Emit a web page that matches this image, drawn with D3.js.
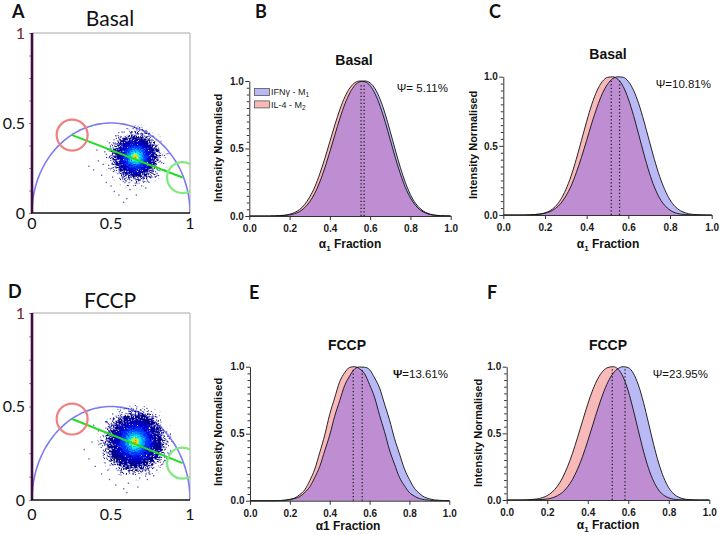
<!DOCTYPE html>
<html><head><meta charset="utf-8">
<script src="https://cdn.jsdelivr.net/npm/d3@7"></script>
<style>body{margin:0;background:#fff}svg{display:block}</style>
</head><body><svg id="c" width="720" height="535"></svg>
<script>
// ---------------- DATA ----------------
const alphaGrid=[0,0.025,0.05,0.075,0.1,0.125,0.15,0.175,0.2,0.225,0.25,0.275,0.3,0.325,0.35,0.375,0.4,0.425,0.45,0.475,0.5,0.525,0.55,0.575,0.6,0.625,0.65,0.675,0.7,0.725,0.75,0.775,0.8,0.825,0.85,0.875,0.9,0.925,0.95,0.975,1];
// Panel B (Basal)
const basalIL4_B=[0,0,0,0,0,0.001,0.003,0.006,0.013,0.026,0.048,0.085,0.141,0.215,0.313,0.426,0.551,0.676,0.790,0.884,0.950,0.988,1.000,0.994,0.965,0.903,0.812,0.695,0.564,0.432,0.313,0.211,0.134,0.079,0.043,0.022,0.010,0.005,0.002,0.001,0];
const basalIFN_B=[0,0,0,0,0,0.001,0.002,0.004,0.008,0.017,0.033,0.062,0.105,0.168,0.252,0.356,0.476,0.601,0.724,0.831,0.914,0.969,0.995,1.000,0.986,0.941,0.863,0.755,0.625,0.489,0.360,0.248,0.159,0.095,0.053,0.027,0.013,0.006,0.002,0.001,0];
// Panel C (Basal)
const basalIL4_C=[0,0,0,0,0,0.001,0.003,0.007,0.015,0.032,0.062,0.111,0.184,0.281,0.403,0.539,0.677,0.802,0.900,0.965,0.995,0.999,0.981,0.930,0.839,0.719,0.580,0.439,0.309,0.202,0.122,0.069,0.035,0.016,0.007,0.003,0.001,0,0,0,0];
const basalIFN_C=[0,0,0,0,0,0.001,0.003,0.006,0.013,0.025,0.047,0.083,0.137,0.209,0.305,0.417,0.540,0.666,0.780,0.877,0.945,0.986,0.999,0.996,0.966,0.902,0.804,0.678,0.539,0.402,0.280,0.183,0.109,0.060,0.031,0.015,0.006,0.003,0.001,0,0];
// Panel E (FCCP)
const fccpIL4_E=[0,0,0,0,0,0,0.001,0.004,0.010,0.020,0.046,0.082,0.150,0.236,0.360,0.490,0.645,0.768,0.888,0.955,0.995,1.000,0.984,0.947,0.866,0.772,0.638,0.515,0.378,0.273,0.174,0.112,0.061,0.034,0.016,0.008,0.003,0.001,0,0,0];
const fccpIFN_E=[0,0,0,0,0,0,0.001,0.003,0.008,0.017,0.031,0.062,0.104,0.174,0.256,0.373,0.490,0.631,0.746,0.860,0.930,0.984,0.998,0.996,0.978,0.917,0.842,0.722,0.604,0.464,0.350,0.237,0.158,0.093,0.054,0.027,0.014,0.006,0.003,0.001,0];
// Panel F (FCCP)
const fccpIL4_F=[0,0,0,0,0.001,0.004,0.008,0.017,0.033,0.060,0.103,0.165,0.249,0.351,0.471,0.596,0.719,0.827,0.911,0.967,0.994,1.000,0.981,0.922,0.817,0.676,0.519,0.367,0.238,0.141,0.075,0.036,0.016,0.006,0.002,0.001,0,0,0,0,0];
const fccpIFN_F=[0,0,0,0,0,0.001,0.002,0.004,0.008,0.016,0.032,0.057,0.098,0.155,0.233,0.329,0.442,0.564,0.685,0.795,0.886,0.950,0.987,1.000,0.993,0.951,0.863,0.733,0.577,0.418,0.278,0.168,0.092,0.045,0.020,0.008,0.003,0.001,0,0,0];
// peak (dotted line) positions [IL-4, IFNγ]
const peaksB=[0.555,0.570], peaksC=[0.518,0.558], peaksE=[0.518,0.563], peaksF=[0.521,0.584];
const psiLabels=["Ψ= 5.11%","Ψ=10.81%","Ψ=13.61%","Ψ=23.95%"];
const conditionTitles=["Basal","FCCP"];
const seriesNames=["IFNγ - M","IL-4 - M"];
const xTickValues=[0,0.2,0.4,0.6,0.8,1.0];
const yTickValues=[0,0.5,1.0];
const yMinorValues=[0.05,0.1,0.15,0.2,0.25,0.3,0.35,0.4,0.45,0.55,0.6,0.65,0.7,0.75,0.8,0.85,0.9,0.95];
// Phasor panels (A, D)
const phasorTicks=[0,0.5,1];
const phasorMinor=[0.125,0.25,0.375,0.625,0.75,0.875];
const universalCircle={g:0.5,s:0,r:0.5};
const componentM1=[0.254,0.433];   // red cursor
const componentM2=[0.953,0.197];   // green cursor
const cursorRadius=0.098;
const cloudCenterBasal=[0.655,0.312], cloudCenterFCCP=[0.652,0.312];
const cloudGBasal=[0.15,0.105,0.078,0.054,0.038,0.025,0.015,0.007];
const cloudSBasal=[0.13,0.09,0.066,0.047,0.034,0.022,0.013,0.006];
const cloudGFCCP=[0.185,0.13,0.095,0.064,0.045,0.029,0.017,0.008];
const cloudSFCCP=[0.16,0.11,0.08,0.056,0.04,0.026,0.015,0.007];
const outliersBasal=[[0.36,0.26],[0.39,0.24],[0.42,0.29],[0.44,0.21],[0.46,0.34],[0.47,0.17],[0.49,0.39],[0.5,0.15],[0.52,0.12],[0.53,0.43],[0.55,0.1],[0.57,0.45],[0.6,0.08],[0.62,0.13],[0.64,0.47],[0.66,0.1],[0.7,0.44],[0.72,0.14],[0.75,0.42],[0.78,0.2],[0.8,0.36],[0.82,0.28],[0.84,0.24],[0.86,0.33],[0.41,0.35],[0.58,0.06],[0.74,0.17],[0.45,0.27],[0.68,0.46],[0.51,0.2]];
const outliersFCCP=[[0.33,0.27],[0.36,0.22],[0.38,0.31],[0.4,0.18],[0.42,0.37],[0.44,0.14],[0.45,0.25],[0.47,0.42],[0.49,0.11],[0.51,0.46],[0.53,0.08],[0.56,0.48],[0.58,0.06],[0.61,0.09],[0.63,0.49],[0.67,0.07],[0.7,0.46],[0.73,0.11],[0.76,0.44],[0.79,0.16],[0.82,0.39],[0.84,0.21],[0.86,0.31],[0.88,0.26],[0.39,0.4],[0.6,0.04],[0.77,0.13],[0.43,0.3],[0.69,0.48],[0.48,0.16]];

// ---------------- STYLE ----------------
const jet=["#00008a","#0000d0","#0038ff","#0094ff","#00e0ff","#8cff70","#ffd000","#ff5000"];
const blurs=[5,3,2.2,1.8,1.5,1.2,1,0.8];
const gains=[0.95,1.05,1.05,1.05,1.05,1.1,1.1,1.2];
const PINK="#f8b9b9", LAV="#b9b9f5", PURPLE="#be8dd2";
const svg=d3.select("#c");
const defs=svg.append("defs");

blurs.forEach((b,i)=>{
  const f=defs.append("filter").attr("id","grain"+i).attr("x","-80%").attr("y","-80%").attr("width","260%").attr("height","260%")
    .attr("color-interpolation-filters","sRGB");
  f.append("feGaussianBlur").attr("in","SourceAlpha").attr("stdDeviation",b).attr("result","b");
  f.append("feTurbulence").attr("type","fractalNoise").attr("baseFrequency",0.95).attr("numOctaves",2).attr("seed",7).attr("result","t");
  f.append("feColorMatrix").attr("in","t").attr("type","matrix").attr("values","0 0 0 0 0  0 0 0 0 0  0 0 0 0 0  2.4 0 0 0 -0.7").attr("result","n");
  f.append("feComposite").attr("in","b").attr("in2","n").attr("operator","arithmetic").attr("k1",0).attr("k2",gains[i]).attr("k3",-1).attr("k4",0).attr("result","d");
  f.append("feComponentTransfer").attr("in","d").attr("result","m").append("feFuncA").attr("type","linear").attr("slope",14).attr("intercept",0);
  f.append("feMorphology").attr("in","SourceGraphic").attr("operator","dilate").attr("radius",Math.ceil(b*2.8)).attr("result","c");
  f.append("feComposite").attr("in","c").attr("in2","m").attr("operator","in");
});

// ---------------- PHASOR PANELS ----------------
function phasorPanel(cfg){
  const x=d3.scaleLinear([0,1],[cfg.left,cfg.right]);
  const y=d3.scaleLinear([0,1],[cfg.bottom,cfg.top]);
  const g=svg.append("g");
  defs.append("clipPath").attr("id","clip"+cfg.id).append("rect")
    .attr("x",cfg.left).attr("y",cfg.top-1).attr("width",cfg.right-cfg.left).attr("height",cfg.bottom-cfg.top+1);
  g.append("path").attr("d",`M${cfg.left},${cfg.top}H${cfg.right}V${cfg.bottom}`).attr("fill","none").attr("stroke","#a8a8a8").attr("stroke-width",1);
  const inner=g.append("g").attr("clip-path",`url(#clip${cfg.id})`);
  // universal semicircle
  const arcPts=d3.range(0,181,2).map(a=>[universalCircle.g+universalCircle.r*Math.cos(a*Math.PI/180),universalCircle.s+universalCircle.r*Math.sin(a*Math.PI/180)]);
  inner.append("path").attr("d",d3.line().x(d=>x(d[0])).y(d=>y(d[1])).curve(d3.curveCardinal)(arcPts))
    .attr("fill","none").attr("stroke","#7b7bf2").attr("stroke-width",1.6);
  // cloud: sparse outliers then density layers
  inner.selectAll("rect.out").data(cfg.outliers).join("rect").attr("class","out")
    .attr("x",d=>x(d[0])-0.6).attr("y",d=>y(d[1])-0.6).attr("width",1.3).attr("height",1.3).attr("fill","#2a2aa0").attr("opacity",0.8);
  const cx=x(cfg.center[0]), cy=y(cfg.center[1]);
  cfg.rg.forEach((rg,i)=>{
    inner.append("ellipse").attr("cx",cx).attr("cy",cy)
      .attr("rx",x(rg)-x(0)).attr("ry",y(0)-y(cfg.rs[i]))
      .attr("transform",`rotate(14,${cx},${cy})`)
      .attr("fill",jet[i]).attr("filter",`url(#grain${i})`);
  });
  // trajectory line
  inner.append("line").attr("x1",x(componentM1[0])).attr("y1",y(componentM1[1])).attr("x2",x(componentM2[0])).attr("y2",y(componentM2[1]))
    .attr("stroke","#22dd22").attr("stroke-width",2);
  const rpx=x(cursorRadius)-x(0);
  inner.append("circle").attr("cx",x(componentM1[0])).attr("cy",y(componentM1[1])).attr("r",rpx).attr("fill","none").attr("stroke","#f08080").attr("stroke-width",2.2);
  inner.append("circle").attr("cx",x(componentM2[0])).attr("cy",y(componentM2[1])).attr("r",rpx).attr("fill","none").attr("stroke","#80ea80").attr("stroke-width",2.2);
  // axes
  const yAx=g.append("g").attr("transform",`translate(${cfg.left},0)`)
    .call(d3.axisLeft(y).tickValues(phasorMinor.concat(phasorTicks)).tickSize(3).tickFormat("").tickSizeOuter(0));
  yAx.select(".domain").remove();
  yAx.selectAll(".tick line").attr("stroke","#8a8a8a");
  g.append("line").attr("x1",cfg.left).attr("x2",cfg.left).attr("y1",cfg.top).attr("y2",cfg.bottom).attr("stroke","#3e0c40").attr("stroke-width",2.6);
  g.append("line").attr("x1",cfg.left-1).attr("x2",cfg.right).attr("y1",cfg.bottom).attr("y2",cfg.bottom).attr("stroke","#111").attr("stroke-width",1.6);
  const lab=g.append("g").attr("font-family","Lato, 'Open Sans', sans-serif").attr("font-size",16).attr("fill","#111");
  phasorTicks.forEach(v=>{
    lab.append("text").attr("x",cfg.left-7).attr("y",y(v)).attr("dy","0.36em").attr("text-anchor","end")
      .attr("fill",v===1?"#6e2a2a":"#111").text(d3.format("")(v));
    lab.append("text").attr("x",x(v)).attr("y",cfg.bottom+cfg.xlabGap).attr("text-anchor","middle").text(d3.format("")(v));
  });
  svg.append("text").attr("x",(cfg.left+cfg.right)/2-1).attr("y",cfg.titleY).attr("text-anchor","middle")
    .attr("font-family","Lato, 'Open Sans', sans-serif").attr("font-size",21).attr("fill","#111").text(cfg.title);
  svg.append("text").attr("x",cfg.lx).attr("y",cfg.ly).attr("font-family","Lato, 'Open Sans', sans-serif").attr("font-weight","bold")
    .attr("font-size",18).attr("fill","#111").text(cfg.letter);
}

phasorPanel({id:"A",left:32,right:190,top:33,bottom:213,center:cloudCenterBasal,rg:cloudGBasal,rs:cloudSBasal,outliers:outliersBasal,title:conditionTitles[0],titleY:26,xlabGap:16,letter:"A",lx:12,ly:18});
phasorPanel({id:"D",left:32,right:190,top:313,bottom:500,center:cloudCenterFCCP,rg:cloudGFCCP,rs:cloudSFCCP,outliers:outliersFCCP,title:conditionTitles[1],titleY:308,xlabGap:20,letter:"D",lx:8,ly:298});

// ---------------- DENSITY PANELS ----------------
const FONT="'Liberation Sans', Arial, sans-serif";
function densityPanel(cfg){
  const x=d3.scaleLinear([0,1],[cfg.x0,cfg.x1]);
  const y=d3.scaleLinear([0,1],[cfg.yb,cfg.yt]);
  const g=svg.append("g");
  const area=d3.area().x((d,i)=>x(alphaGrid[i])).y0(y(0)).y1(d=>y(d)).curve(d3.curveMonotoneX);
  const line=d3.line().x((d,i)=>x(alphaGrid[i])).y(d=>y(d)).curve(d3.curveMonotoneX);
  g.append("path").attr("d",area(cfg.red)).attr("fill",PINK);
  g.append("path").attr("d",area(cfg.blue)).attr("fill",LAV);
  defs.append("clipPath").attr("id","ov"+cfg.id).append("path").attr("d",area(cfg.blue));
  g.append("path").attr("d",area(cfg.red)).attr("fill",PURPLE).attr("clip-path",`url(#ov${cfg.id})`);
  [cfg.red,cfg.blue].forEach(s=>g.append("path").attr("d",line(s)).attr("fill","none").attr("stroke","#111").attr("stroke-width",0.9));
  cfg.peaks.forEach(p=>g.append("line").attr("x1",x(p)).attr("x2",x(p)).attr("y1",y(0)).attr("y2",y(0.985))
    .attr("stroke","#222").attr("stroke-width",1.3).attr("stroke-dasharray","1.3,2.2"));
  // axes
  const ax=g.append("g").attr("font-family",FONT);
  const yMin=ax.append("g").attr("transform",`translate(${cfg.x0},0)`).call(d3.axisLeft(y).tickValues(yMinorValues).tickSize(2.5).tickFormat("").tickSizeOuter(0));
  yMin.select(".domain").remove();
  const yA=ax.append("g").attr("transform",`translate(${cfg.x0},0)`).call(d3.axisLeft(y).tickValues(yTickValues).tickSize(4).tickPadding(1.5).tickFormat(d3.format(".1f")).tickSizeOuter(0));
  const xA=ax.append("g").attr("transform",`translate(0,${cfg.yb})`).call(d3.axisBottom(x).tickValues(xTickValues).tickSize(4).tickPadding(cfg.tickPad).tickFormat(d3.format(".1f")).tickSizeOuter(0));
  [yA,xA].forEach(a=>{a.selectAll("text").attr("font-size",10).attr("font-weight","bold").attr("fill","#1a1a1a").attr("font-family",FONT);});
  ax.selectAll(".domain,.tick line").attr("stroke","#333").attr("stroke-width",1);
  // titles and labels
  const t=svg.append("g").attr("font-family",FONT).attr("fill","#111");
  t.append("text").attr("x",cfg.titleX).attr("y",cfg.titleY).attr("text-anchor","middle").attr("font-weight","bold").attr("font-size",14).text(cfg.title);
  const psi=t.append("text").attr("x",cfg.psiX).attr("y",cfg.psiY).attr("text-anchor","end").attr("font-size",11.5);
  psi.append("tspan").attr("font-weight",cfg.psiBold?"bold":"normal").text(cfg.psi.slice(0,1));
  psi.append("tspan").text(cfg.psi.slice(1));
  t.append("text").attr("transform",`translate(${cfg.ylabX},${cfg.ylabY}) rotate(-90)`).attr("text-anchor","middle").attr("dy","0.35em")
    .attr("font-weight","bold").attr("font-size",11).text("Intensity Normalised");
  const xl=t.append("text").attr("x",cfg.xlabX).attr("y",cfg.xlabY).attr("text-anchor","middle").attr("font-weight","bold").attr("font-size",12);
  if(cfg.sub){
    xl.append("tspan").text("α");
    xl.append("tspan").attr("font-size",8).attr("dy",2.5).text("1");
    xl.append("tspan").attr("dy",-2.5).text(" Fraction");
  } else xl.text("α1 Fraction");
  svg.append("text").attr("x",cfg.lx).attr("y",cfg.ly).attr("font-family","Lato, 'Open Sans', sans-serif").attr("font-weight","bold")
    .attr("font-size",18).attr("fill","#111").text(cfg.letter);
  if(cfg.legend){
    const lg=svg.append("g").attr("font-family",FONT).attr("font-size",9).attr("fill","#222");
    [[LAV,0],[PINK,1]].forEach(([c,i])=>{
      const yy=88.5+i*12.4;
      lg.append("rect").attr("x",254.5).attr("y",yy).attr("width",15).attr("height",7).attr("fill",c).attr("stroke","#555").attr("stroke-width",0.8);
      const tx=lg.append("text").attr("x",271).attr("y",yy+6.8);
      tx.append("tspan").text(seriesNames[i]);
      tx.append("tspan").attr("font-size",6.5).attr("dy",2).text(String(i+1));
    });
  }
}

densityPanel({id:"B",x0:249.3,x1:450.7,yb:216,yt:81,red:basalIL4_B,blue:basalIFN_B,peaks:peaksB,title:conditionTitles[0],titleX:354,titleY:65,
  psi:psiLabels[0],psiX:448,psiY:92,ylabX:218,ylabY:148,xlabX:350,xlabY:248,sub:true,tickPad:5,letter:"B",lx:255,ly:18,legend:true});
densityPanel({id:"C",x0:503.3,x1:711.7,yb:215,yt:76.7,red:basalIL4_C,blue:basalIFN_C,peaks:peaksC,title:conditionTitles[0],titleX:608,titleY:59,
  psi:psiLabels[1],psiX:711,psiY:88,ylabX:473,ylabY:145,xlabX:608,xlabY:248,sub:true,tickPad:5,letter:"C",lx:489,ly:18});
densityPanel({id:"E",x0:250,x1:449.3,yb:500.7,yt:366.7,red:fccpIL4_E,blue:fccpIFN_E,peaks:peaksE,title:conditionTitles[1],titleX:347,titleY:350,
  psi:psiLabels[2],psiX:448,psiY:378,psiBold:true,ylabX:218,ylabY:432,xlabX:348,xlabY:530,sub:false,tickPad:5,letter:"E",lx:249,ly:299});
densityPanel({id:"F",x0:506.7,x1:709.3,yb:500,yt:366.7,red:fccpIL4_F,blue:fccpIFN_F,peaks:peaksF,title:conditionTitles[1],titleX:608,titleY:350,
  psi:psiLabels[3],psiX:708,psiY:378,ylabX:478,ylabY:433,xlabX:608,xlabY:529,sub:true,tickPad:5,letter:"F",lx:487,ly:299});
</script></body></html>
